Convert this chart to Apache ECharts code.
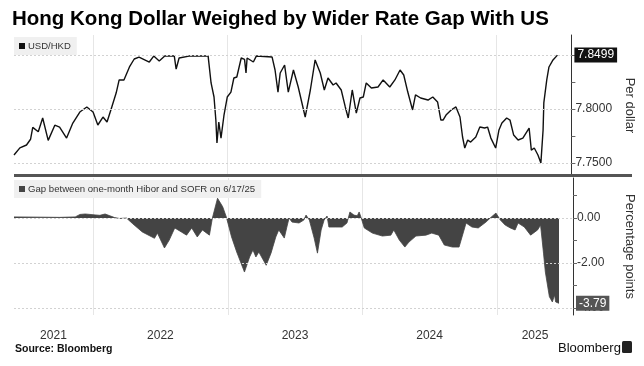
<!DOCTYPE html>
<html>
<head>
<meta charset="utf-8">
<script src="https://cdn.jsdelivr.net/npm/echarts@6/dist/echarts.min.js"></script>
<style>
html,body{margin:0;padding:0;background:#fff;}
#c{width:644px;height:366px;}
</style>
</head>
<body>
<div id="c"></div>
<script>
// ---- Data ----
const usdDates = [
'2021-05-31','2021-06-16','2021-07-04','2021-07-15','2021-07-21','2021-08-05','2021-08-17','2021-09-01','2021-09-19','2021-10-02',
'2021-10-21','2021-11-07','2021-11-26','2021-12-15','2022-01-01','2022-01-14','2022-01-28','2022-02-08','2022-02-21','2022-03-05',
'2022-03-13','2022-03-26','2022-04-10','2022-04-23','2022-05-06','2022-06-03','2022-06-15','2022-06-30','2022-07-15','2022-08-10',
'2022-08-15','2022-08-23','2022-09-19','2022-10-16','2022-11-10','2022-11-18','2022-11-26','2022-12-01','2022-12-04','2022-12-09',
'2022-12-15','2022-12-23','2023-01-01','2023-01-11','2023-01-19','2023-01-27','2023-02-08','2023-02-17','2023-02-21','2023-02-24',
'2023-03-13','2023-03-21','2023-05-03','2023-05-11','2023-05-19','2023-05-25','2023-06-06','2023-06-16','2023-06-30','2023-07-13',
'2023-08-01','2023-08-15','2023-08-28','2023-09-11','2023-09-22','2023-10-02','2023-10-16','2023-10-24','2023-11-07','2023-11-18',
'2023-11-26','2023-12-07','2023-12-18','2023-12-28','2024-01-06','2024-01-14','2024-01-28','2024-02-15','2024-02-29','2024-03-18',
'2024-04-01','2024-04-15','2024-04-25','2024-05-06','2024-05-19','2024-05-27','2024-06-10','2024-06-30','2024-07-13','2024-07-26',
'2024-08-04','2024-08-10','2024-08-18','2024-09-01','2024-09-14','2024-09-25','2024-10-02','2024-10-08','2024-10-16','2024-10-24',
'2024-11-07','2024-11-18','2024-12-01','2024-12-09','2024-12-18','2024-12-31','2025-01-09','2025-01-17','2025-01-30','2025-02-08',
'2025-02-18','2025-03-02','2025-03-15','2025-04-01','2025-04-07','2025-04-15','2025-04-25','2025-05-03','2025-05-09','2025-05-11',
'2025-05-19','2025-05-25','2025-06-05','2025-06-17'
];
const usdValues = [
7.7574,7.7640,7.7667,7.7720,7.7830,7.7790,7.7917,7.7710,7.7850,7.7833,
7.7731,7.7870,7.7972,7.8019,7.7972,7.7852,7.7926,7.7880,7.8019,7.8150,
7.8269,7.8269,7.8389,7.8463,7.8481,7.8435,7.8490,7.8445,7.8490,7.8490,
7.8370,7.8472,7.8490,7.8490,7.8490,7.8241,7.8111,7.7898,7.7685,7.7880,
7.7731,7.7940,7.8111,7.8157,7.8287,7.8296,7.8472,7.8460,7.8333,7.8472,
7.8435,7.8490,7.8481,7.8361,7.8157,7.8333,7.8407,7.8157,7.8361,7.8204,
7.7926,7.8176,7.8454,7.8333,7.8176,7.8287,7.8222,7.8241,7.8176,7.8019,
7.7917,7.8176,7.7963,7.8102,7.8111,7.8241,7.8194,7.8204,7.8269,7.8204,
7.8269,7.8361,7.8315,7.8157,7.7991,7.8130,7.8102,7.8083,7.8111,7.8065,
7.7898,7.7898,7.7944,7.7991,7.8019,7.7926,7.7741,7.7639,7.7713,7.7694,
7.7741,7.7833,7.7824,7.7833,7.7731,7.7639,7.7806,7.7870,7.7917,7.7898,
7.7759,7.7713,7.7731,7.7824,7.7620,7.7639,7.7574,7.7500,7.7806,7.8056,
7.8269,7.8389,7.8454,7.8499
];
const gapDates = [
'2021-05-31','2021-08-10','2021-10-02','2021-11-13','2021-11-26','2021-12-10','2022-01-06','2022-01-19','2022-02-02','2022-02-15',
'2022-02-28','2022-03-13','2022-04-01','2022-04-17','2022-05-14','2022-06-16','2022-06-24','2022-07-13','2022-07-26','2022-08-10',
'2022-08-28','2022-09-11','2022-09-25','2022-10-10','2022-10-24','2022-11-12','2022-11-20','2022-12-04','2022-12-18','2022-12-28',
'2023-01-11','2023-01-25','2023-02-15','2023-03-01','2023-03-10','2023-03-18','2023-03-26','2023-04-15','2023-04-28','2023-05-11',
'2023-05-19','2023-06-03','2023-06-10','2023-06-16','2023-06-24','2023-07-13','2023-07-26','2023-08-01','2023-08-10','2023-08-23',
'2023-09-01','2023-09-11','2023-09-19','2023-09-27','2023-10-02','2023-10-21','2023-11-07','2023-11-20','2023-11-28','2023-12-09',
'2023-12-18','2023-12-23','2023-12-28','2024-01-06','2024-01-28','2024-02-24','2024-03-18','2024-03-26','2024-04-10','2024-04-25',
'2024-05-06','2024-05-25','2024-06-21','2024-07-07','2024-07-26','2024-08-10','2024-09-01','2024-09-19','2024-09-27','2024-10-08',
'2024-10-24','2024-11-10','2024-12-01','2024-12-15','2024-12-28','2025-01-01','2025-01-09','2025-01-22','2025-02-05','2025-02-18',
'2025-02-26','2025-03-15','2025-04-01','2025-04-20','2025-04-28','2025-05-06','2025-05-11','2025-05-22','2025-05-30','2025-06-05',
'2025-06-08','2025-06-17'
];
const gapValues = [
0.05,0.04,0.03,0.05,0.16,0.18,0.14,0.12,0.18,0.10,
0.02,-0.02,0.00,-0.24,-0.62,-0.90,-0.67,-1.33,-0.98,-0.44,
-0.62,-0.76,-0.44,-0.84,-0.53,-0.76,0.00,0.88,0.50,0.04,
-0.84,-1.51,-2.40,-1.73,-1.42,-1.73,-1.51,-2.10,-1.56,-0.84,
-0.53,-0.89,-0.40,0.00,-0.18,-0.22,-0.09,0.13,-0.09,-0.89,
-1.56,-0.53,-0.09,0.09,-0.40,-0.40,-0.40,-0.22,0.27,0.13,
0.10,0.27,0.04,-0.44,-0.67,-0.80,-0.76,-0.53,-0.98,-1.29,
-1.07,-0.80,-0.76,-0.67,-0.76,-1.20,-1.29,-1.29,-0.84,-0.22,
-0.40,-0.44,-0.18,0.04,0.22,0.22,-0.09,-0.31,-0.44,-0.53,
-0.22,-0.40,-0.76,-0.53,-0.31,-1.56,-2.40,-3.50,-3.73,-3.42,
-3.73,-3.79
];
const yearStarts = ['2022-01-01','2023-01-01','2024-01-01','2025-01-01'];
const yearLabels = ['2021','2022','2023','2024','2025'];
const yearLabelDates = ['2021-09-15','2022-07-02','2023-07-02','2024-07-01','2025-04-13'];
const usdTicks = [7.75,7.775,7.80,7.825,7.85];
const usdTickLabels = [7.75,7.80];
const usdGridLines = [7.75,7.80,7.85];
const gapTicks = [1,0,-1,-2,-3,-4];
const gapTickLabels = [0,-2,-4];
const gapGridLines = [0,-2,-4];
const xMin = '2021-05-31', xMax = '2025-07-25';

// ---- Build ----
const ts = s => new Date(s + 'T00:00:00Z').getTime();
const usdData = usdDates.map((d,i)=>[ts(d), usdValues[i]]);
const gapData = gapDates.map((d,i)=>[ts(d), gapValues[i]]);
const lastUsd = usdValues[usdValues.length-1];
const lastGap = gapValues[gapValues.length-1];
const yearStartTs = yearStarts.map(ts);
const yearLabelTs = yearLabelDates.map(ts);
const FONT = 'Liberation Sans';
const gridLineH = {show:true, lineStyle:{color:'#d2d2d2', type:[2,2], width:1}};
const gridLineV = {show:true, lineStyle:{color:'#e6e6e6', width:1}};
const yearFmt = function(v){
  let best=0, bd=Infinity;
  yearLabelTs.forEach((t,i)=>{const d=Math.abs(t-v); if(d<bd){bd=d;best=i;}});
  return yearLabels[best];
};

const chart = echarts.init(document.getElementById('c'), null, {renderer:'canvas'});
chart.setOption({
  animation:false,
  backgroundColor:'#fff',
  textStyle:{fontFamily:FONT},
  title:[
    {text:'Hong Kong Dollar Weighed by Wider Rate Gap With US', left:12, top:9, padding:0,
     textStyle:{fontSize:20.5, fontWeight:'bold', color:'#000', fontFamily:FONT}},
    {text:'Source: Bloomberg', left:15, top:344, padding:0,
     textStyle:{fontSize:10.5, fontWeight:'bold', color:'#111', fontFamily:FONT}},
    {text:'Bloomberg', left:558, top:342, padding:0,
     textStyle:{fontSize:13, fontWeight:'normal', color:'#111', fontFamily:FONT}}
  ],
  legend:[
    {data:['USD/HKD'], left:14, top:37, padding:[4,6,4,5], backgroundColor:'#f0f0f0',
     icon:'rect', itemWidth:6, itemHeight:6, itemGap:4,
     textStyle:{fontSize:9.5, color:'#333', padding:[0,0,0,-2]}},
    {data:['Gap between one-month Hibor and SOFR on 6/17/25'], left:14, top:180, padding:[4,6,4,5],
     backgroundColor:'#f0f0f0', icon:'rect', itemWidth:6, itemHeight:6, itemGap:4,
     textStyle:{fontSize:9.6, color:'#333', padding:[0,0,0,-2]}}
  ],
  grid:[
    {left:14, right:70, top:35, height:141},
    {left:14, right:70, top:178, height:137}
  ],
  xAxis:[
    {gridIndex:0, type:'value', min:ts(xMin), max:ts(xMax),
     axisLine:{show:false}, axisTick:{show:false, customValues:yearStartTs},
     axisLabel:{show:false}, splitLine:gridLineV},
    {gridIndex:1, type:'value', min:ts(xMin), max:ts(xMax),
     axisLine:{show:false}, axisTick:{show:false, customValues:yearStartTs},
     axisLabel:{customValues:yearLabelTs, margin:15, fontSize:12, color:'#333', formatter:yearFmt},
     splitLine:gridLineV}
  ],
  yAxis:[
    {gridIndex:0, type:'value', position:'right', min:7.738, max:7.8685,
     axisLine:{show:true, lineStyle:{color:'#333', width:1}},
     axisTick:{show:true, customValues:usdTicks, length:4, lineStyle:{color:'#666'}},
     axisLabel:{customValues:usdTickLabels, formatter:v=>v.toFixed(4), fontSize:12, color:'#333', margin:4},
     splitLine:{show:false},
     name:'Per dollar', nameLocation:'middle', nameRotate:-90, nameGap:50,
     nameTextStyle:{fontSize:13, color:'#333'}},
    {gridIndex:0, type:'value', position:'right', min:7.738, max:7.8685,
     axisLine:{show:false}, axisTick:{show:false, customValues:usdGridLines},
     axisLabel:{customValues:[lastUsd], formatter:v=>v.toFixed(4), fontSize:12, color:'#fff',
       backgroundColor:'#111', padding:[2,3,1,3], margin:3},
     splitLine:gridLineH, z:5},
    {gridIndex:1, type:'value', position:'right', min:-4.31, max:1.78,
     axisLine:{show:true, lineStyle:{color:'#333', width:1}},
     axisTick:{show:true, customValues:gapTicks, length:4, lineStyle:{color:'#666'}},
     axisLabel:{customValues:gapTickLabels, formatter:v=>v.toFixed(2), fontSize:12, color:'#333', margin:4},
     splitLine:{show:false},
     name:'Percentage points', nameLocation:'middle', nameRotate:-90, nameGap:50,
     nameTextStyle:{fontSize:13, color:'#333'}},
    {gridIndex:1, type:'value', position:'right', min:-4.31, max:1.78,
     axisLine:{show:false}, axisTick:{show:false, customValues:gapGridLines},
     axisLabel:{customValues:[lastGap], formatter:v=>v.toFixed(2), fontSize:12, color:'#fff',
       backgroundColor:'#555', padding:[2,3,1,3], margin:3},
     splitLine:gridLineH, z:5}
  ],
  series:[
    {name:'USD/HKD', type:'line', xAxisIndex:0, yAxisIndex:0, data:usdData, showSymbol:false,
     symbol:'none', lineStyle:{color:'#111', width:1.4}, itemStyle:{color:'#111'}},
    {name:'Gap between one-month Hibor and SOFR on 6/17/25', type:'line', xAxisIndex:1, yAxisIndex:2,
     data:gapData, showSymbol:false, symbol:'none',
     lineStyle:{color:'#444', width:0.8}, itemStyle:{color:'#444'},
     areaStyle:{color:'#444', opacity:1, origin:0}}
  ],
  graphic:[
    {type:'rect', shape:{x:14, y:174, width:618, height:3}, style:{fill:'#555'}, z:100},
    {type:'rect', shape:{x:622, y:341, width:10, height:12, r:1.5}, style:{fill:'#222'}, z:100}
  ]
});
</script>
</body>
</html>
